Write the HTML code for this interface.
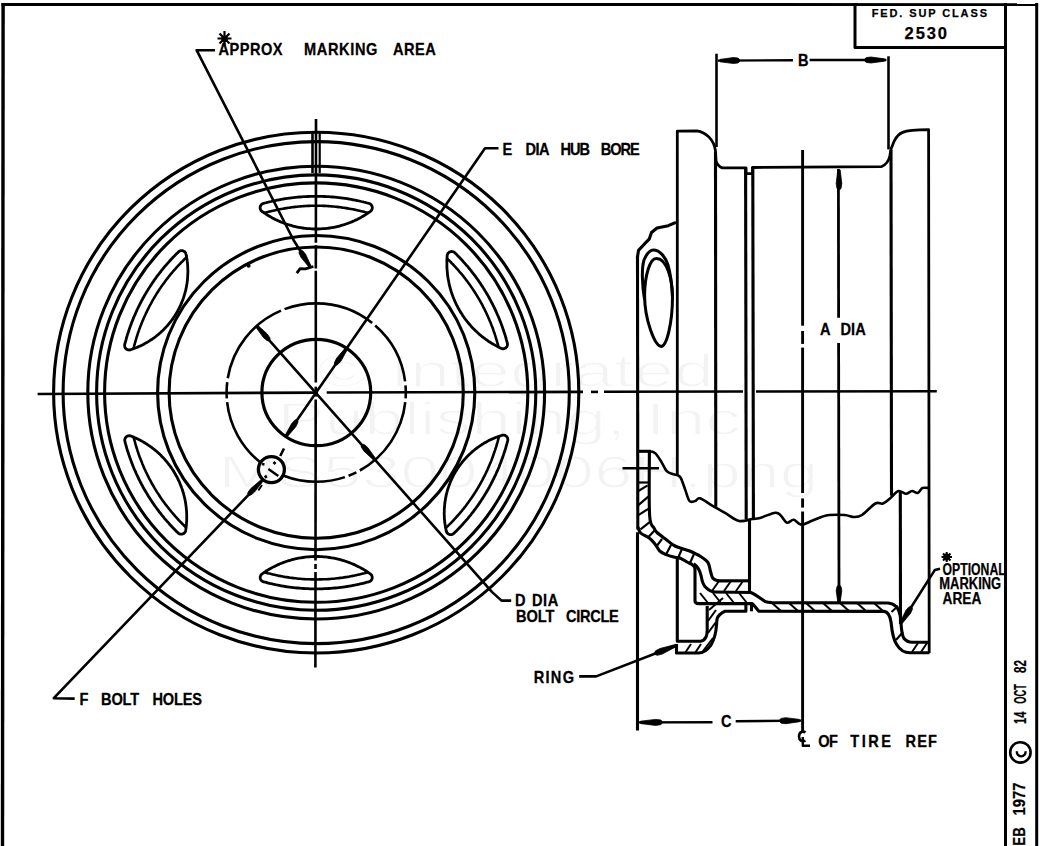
<!DOCTYPE html>
<html><head><meta charset="utf-8"><style>
html,body{margin:0;padding:0;background:#fff;}
svg{display:block;}
text{font-family:"Liberation Sans",sans-serif;}
</style></head><body>
<svg width="1040" height="846" viewBox="0 0 1040 846">
<rect width="1040" height="846" fill="#fff"/>
<g fill="#f3f3f3" stroke="#fff" stroke-width="1.3" font-weight="normal" font-size="47">
<text x="317" y="387" textLength="397" lengthAdjust="spacingAndGlyphs">&#169; Integrated</text>
<text x="277" y="435" textLength="464" lengthAdjust="spacingAndGlyphs">Publishing, Inc</text>
<text x="218.5" y="488" textLength="600" lengthAdjust="spacingAndGlyphs">MS53004006H.png</text>
</g>
<g fill="none" stroke="#000" stroke-linecap="butt" stroke-linejoin="round">
<path d="M3.1,3 L2.5,846" stroke-width="3.4"/>
<path d="M1.5,4.5 L1038,4.6" stroke-width="2.9"/>
<path d="M1005.5,3 L1005.5,846" stroke-width="3"/>
<path d="M1036.7,3 L1036.7,846" stroke-width="3"/>
<path d="M855,3 L855,47.5 L1005.5,47.5" stroke-width="3"/>
<ellipse cx="316.2" cy="392.6" rx="262.6" ry="260.4" stroke-width="3.1"/>
<ellipse cx="316.2" cy="392.6" rx="253.1" ry="251" stroke-width="3.1"/>
<ellipse cx="316.2" cy="392.6" rx="228.4" ry="226.4" stroke-width="3.1"/>
<ellipse cx="316.2" cy="392.6" rx="219.6" ry="217.7" stroke-width="3.1"/>
<ellipse cx="316.2" cy="392.6" rx="211.6" ry="209.7" stroke-width="3.1"/>
<ellipse cx="316.2" cy="392.6" rx="158.6" ry="157.1" stroke-width="3.1"/>
<ellipse cx="316.2" cy="392.6" rx="147.1" ry="145.6" stroke-width="3.1"/>
<ellipse cx="316.3" cy="392.5" rx="54.4" ry="53.2" stroke-width="3.2"/>
<ellipse cx="316.2" cy="392.6" rx="89.6" ry="89.2" stroke-width="2.6" pathLength="360" stroke-dasharray="3.75 2.5 54.5 2.5 5.5 2.5 40.45 16.6 45.45 2.5 10.5 2.5 57.5 2.5 59.5 2.5 41.5 2.5 4.75 0"/>
<path d="M447.2,255.6 L447.2,255.2 L447.3,254.8 L447.5,254.3 L447.7,253.9 L447.9,253.6 L448.1,253.2 L448.4,252.9 L448.8,252.6 L449.1,252.3 L449.5,252.1 L449.9,251.9 L450.3,251.7 L450.7,251.6 L451.2,251.5 L451.6,251.5 L452.1,251.5 L452.5,251.6 L452.9,251.7 L453.4,251.8 L453.8,252 L454.1,252.2 L454.5,252.5 L454.8,252.8 L455.8,253.8 L455.9,253.8 L457.3,255.2 L457.3,255.3 L458.7,256.7 L458.8,256.7 L460.2,258.2 L460.2,258.2 L461.6,259.7 L461.6,259.7 L463,261.2 L463,261.3 L464.3,262.8 L464.4,262.8 L465.7,264.3 L465.7,264.3 L467,265.9 L467.1,265.9 L468.4,267.4 L468.4,267.5 L469.7,269 L469.7,269.1 L471,270.6 L471,270.7 L472.2,272.3 L472.3,272.3 L473.5,273.9 L473.5,273.9 L474.7,275.5 L474.8,275.6 L476,277.2 L476,277.2 L477.2,278.9 L477.2,278.9 L478.4,280.5 L478.4,280.6 L479.5,282.2 L479.6,282.3 L480.7,283.9 L480.7,284 L481.8,285.7 L481.9,285.7 L482.9,287.4 L483,287.4 L484,289.1 L484.1,289.2 L485.1,290.9 L485.1,290.9 L486.2,292.6 L486.2,292.7 L487.2,294.4 L487.3,294.5 L488.3,296.2 L488.3,296.2 L489.3,298 L489.3,298 L490.2,299.8 L490.3,299.9 L491.2,301.6 L491.2,301.7 L492.2,303.5 L492.2,303.5 L493.1,305.3 L493.1,305.3 L494,307.1 L494,307.2 L494.9,309 L494.9,309 L495.8,310.9 L495.8,310.9 L496.6,312.7 L496.6,312.8 L497.4,314.6 L497.5,314.7 L498.3,316.5 L498.3,316.5 L499.1,318.4 L499.1,318.4 L499.8,320.3 L499.8,320.4 L500.6,322.2 L500.6,322.3 L501.3,324.1 L501.3,324.2 L502,326.1 L502,326.1 L502.7,328 L502.7,328.1 L503.4,330 L503.4,330 L504,331.9 L504,332 L504.7,333.9 L504.7,333.9 L505.3,335.8 L505.3,335.9 L505.9,337.8 L505.9,337.9 L506.4,339.8 L506.4,339.8 L507,341.8 L507,341.8 L507.3,343.2 L507.4,343.6 L507.5,344 L507.5,344.5 L507.4,344.9 L507.4,345.4 L507.2,345.8 L507.1,346.2 L506.9,346.6 L506.6,347 L506.3,347.3 L506,347.6 L505.7,347.9 L505.3,348.1 L504.9,348.3 L504.5,348.5 L504.1,348.6 L503.6,348.7 L503.2,348.8 L502.7,348.8 L502.3,348.7 L501.9,348.6 L501.4,348.5 L501,348.3 L499.3,347.5 L499.2,347.4 L497.3,346.5 L497.2,346.4 L495.4,345.4 L495.3,345.4 L493.4,344.3 L493.4,344.3 L491.5,343.2 L491.5,343.2 L489.7,342 L489.6,342 L487.8,340.8 L487.8,340.7 L486,339.5 L486,339.5 L484.3,338.2 L484.2,338.2 L482.5,336.9 L482.4,336.8 L480.8,335.5 L480.7,335.4 L479.1,334.1 L479,334 L477.5,332.6 L477.4,332.5 L475.9,331.1 L475.8,331 L474.3,329.5 L474.2,329.5 L472.7,328 L472.7,327.9 L471.2,326.4 L471.2,326.3 L469.8,324.7 L469.7,324.6 L468.4,323 L468.3,322.9 L467,321.3 L466.9,321.2 L465.6,319.6 L465.6,319.5 L464.3,317.8 L464.3,317.7 L463.1,316 L463,315.9 L461.9,314.1 L461.8,314.1 L460.7,312.3 L460.6,312.2 L459.6,310.4 L459.5,310.3 L458.5,308.5 L458.4,308.4 L457.4,306.5 L457.4,306.4 L456.4,304.6 L456.4,304.5 L455.5,302.6 L455.4,302.5 L454.6,300.6 L454.6,300.5 L453.7,298.5 L453.7,298.5 L452.9,296.5 L452.9,296.4 L452.2,294.4 L452.1,294.3 L451.5,292.4 L451.4,292.3 L450.8,290.3 L450.8,290.2 L450.2,288.1 L450.2,288 L449.6,286 L449.6,285.9 L449.1,283.9 L449.1,283.8 L448.7,281.7 L448.7,281.6 L448.3,279.6 L448.3,279.5 L447.9,277.4 L447.9,277.3 L447.6,275.2 L447.6,275.1 L447.4,273 L447.4,272.9 L447.2,270.8 L447.2,270.7 L447,268.7 L447,268.5 L446.9,266.5 L446.9,266.4 L446.9,264.3 L446.9,264.2 L446.9,262.1 L446.9,262 L446.9,259.9 L446.9,259.8 L447,257.7 L447,257.6Z" stroke-width="2.8"/>
<path d="M447,258.4 L448.2,259.6 L449.5,260.8 L450.7,262 L451.9,263.3 L453.1,264.5 L454.3,265.8 L455.5,267.1 L456.6,268.4 L457.8,269.7 L458.9,271 L460,272.3 L461.2,273.6 L462.3,274.9 L463.4,276.3 L464.4,277.7 L465.5,279 L466.5,280.4 L467.6,281.8 L468.6,283.2 L469.6,284.6 L470.6,286 L471.6,287.4 L472.6,288.9 L473.5,290.3 L474.5,291.8 L475.4,293.2 L476.3,294.7 L477.2,296.2 L478.1,297.7 L479,299.2 L479.9,300.7 L480.7,302.2 L481.6,303.7 L482.4,305.2 L483.2,306.8 L484,308.3 L484.8,309.8 L485.5,311.4 L486.3,313 L487,314.5 L487.7,316.1 L488.4,317.7 L489.1,319.3 L489.8,320.9 L490.5,322.5 L491.1,324.1 L491.7,325.7 L492.4,327.3 L493,328.9 L493.5,330.6 L494.1,332.2 L494.7,333.8 L495.2,335.5 L495.7,337.1 L496.2,338.8 L496.7,340.4 L497.2,342.1 L497.7,343.8 L498.1,345.5 L498.5,347.1" stroke-width="2.6"/>
<path d="M261.9,211.3 L261.6,211 L261.3,210.7 L261,210.4 L260.8,210 L260.6,209.7 L260.4,209.3 L260.3,208.8 L260.2,208.4 L260.1,208 L260.1,207.5 L260.2,207.1 L260.2,206.7 L260.4,206.3 L260.5,205.9 L260.7,205.5 L261,205.1 L261.2,204.8 L261.5,204.5 L261.9,204.2 L262.2,203.9 L262.6,203.7 L263,203.6 L263.4,203.4 L265.1,203 L265.1,203 L267.1,202.5 L267.1,202.4 L269.1,202 L269.1,201.9 L271.1,201.5 L271.1,201.5 L273.1,201 L273.1,201 L275.1,200.6 L275.2,200.6 L277.1,200.2 L277.2,200.2 L279.2,199.8 L279.2,199.8 L281.2,199.4 L281.2,199.4 L283.2,199 L283.3,199 L285.3,198.7 L285.3,198.7 L287.3,198.4 L287.4,198.4 L289.4,198.1 L289.4,198.1 L291.4,197.8 L291.5,197.8 L293.5,197.6 L293.5,197.6 L295.5,197.4 L295.6,197.4 L297.6,197.2 L297.6,197.2 L299.7,197 L299.7,197 L301.7,196.8 L301.8,196.8 L303.8,196.7 L303.8,196.7 L305.8,196.6 L305.9,196.6 L307.9,196.5 L308,196.5 L310,196.4 L310,196.4 L312,196.3 L312.1,196.3 L314.1,196.3 L314.2,196.3 L316.2,196.3 L316.2,196.3 L318.2,196.3 L318.3,196.3 L320.3,196.3 L320.4,196.3 L322.4,196.4 L322.4,196.4 L324.4,196.5 L324.5,196.5 L326.5,196.6 L326.6,196.6 L328.6,196.7 L328.6,196.7 L330.6,196.8 L330.7,196.8 L332.7,197 L332.7,197 L334.8,197.2 L334.8,197.2 L336.8,197.4 L336.9,197.4 L338.9,197.6 L338.9,197.6 L340.9,197.8 L341,197.8 L343,198.1 L343,198.1 L345,198.4 L345.1,198.4 L347.1,198.7 L347.1,198.7 L349.1,199 L349.2,199 L351.2,199.4 L351.2,199.4 L353.2,199.8 L353.2,199.8 L355.2,200.2 L355.3,200.2 L357.2,200.6 L357.3,200.6 L359.3,201 L359.3,201 L361.3,201.5 L361.3,201.5 L363.3,201.9 L363.3,202 L365.3,202.4 L365.3,202.5 L367.3,203 L367.3,203 L369,203.4 L369.4,203.6 L369.8,203.7 L370.2,203.9 L370.5,204.2 L370.9,204.5 L371.2,204.8 L371.4,205.1 L371.7,205.5 L371.9,205.9 L372,206.3 L372.2,206.7 L372.2,207.1 L372.3,207.5 L372.3,208 L372.2,208.4 L372.1,208.8 L372,209.3 L371.8,209.7 L371.6,210 L371.4,210.4 L371.1,210.7 L370.8,211 L370.5,211.3 L370.3,211.4 L370.3,211.5 L368.5,212.7 L368.4,212.8 L366.7,213.9 L366.6,214 L364.8,215.1 L364.7,215.2 L362.9,216.3 L362.8,216.3 L361,217.4 L360.9,217.4 L359,218.4 L358.9,218.5 L357.1,219.5 L357,219.5 L355,220.4 L355,220.5 L353,221.3 L352.9,221.4 L351,222.2 L350.9,222.2 L348.9,223 L348.8,223 L346.8,223.8 L346.7,223.8 L344.7,224.5 L344.6,224.5 L342.6,225.1 L342.5,225.2 L340.4,225.7 L340.3,225.8 L338.3,226.3 L338.2,226.3 L336.1,226.8 L336,226.8 L333.9,227.3 L333.8,227.3 L331.8,227.7 L331.7,227.7 L329.6,228 L329.5,228 L327.4,228.3 L327.2,228.3 L325.1,228.6 L325,228.6 L322.9,228.7 L322.8,228.7 L320.7,228.9 L320.6,228.9 L318.5,229 L318.4,229 L316.3,229 L316.1,229 L314,229 L313.9,229 L311.8,228.9 L311.7,228.9 L309.6,228.7 L309.5,228.7 L307.4,228.6 L307.3,228.6 L305.2,228.3 L305,228.3 L302.9,228 L302.8,228 L300.7,227.7 L300.6,227.7 L298.6,227.3 L298.5,227.3 L296.4,226.8 L296.3,226.8 L294.2,226.3 L294.1,226.3 L292.1,225.8 L292,225.7 L289.9,225.2 L289.8,225.1 L287.8,224.5 L287.7,224.5 L285.7,223.8 L285.6,223.8 L283.6,223 L283.5,223 L281.5,222.2 L281.4,222.2 L279.5,221.4 L279.4,221.3 L277.4,220.5 L277.4,220.4 L275.4,219.5 L275.3,219.5 L273.5,218.5 L273.4,218.4 L271.5,217.4 L271.4,217.4 L269.6,216.3 L269.5,216.3 L267.7,215.2 L267.6,215.1 L265.8,214 L265.7,213.9 L264,212.8 L263.9,212.7 L262.1,211.5 L262.1,211.4Z" stroke-width="2.8"/>
<path d="M264.3,213 L266,212.5 L267.7,212.1 L269.4,211.6 L271.1,211.2 L272.8,210.8 L274.5,210.4 L276.2,210 L277.9,209.6 L279.6,209.3 L281.3,209 L283.1,208.7 L284.8,208.4 L286.5,208.1 L288.3,207.8 L290,207.6 L291.7,207.3 L293.5,207.1 L295.2,206.9 L296.9,206.7 L298.7,206.5 L300.4,206.4 L302.2,206.2 L303.9,206.1 L305.7,206 L307.4,205.9 L309.2,205.9 L310.9,205.8 L312.7,205.8 L314.4,205.7 L316.2,205.7 L318,205.7 L319.7,205.8 L321.5,205.8 L323.2,205.9 L325,205.9 L326.7,206 L328.5,206.1 L330.2,206.2 L332,206.4 L333.7,206.5 L335.5,206.7 L337.2,206.9 L338.9,207.1 L340.7,207.3 L342.4,207.6 L344.1,207.8 L345.9,208.1 L347.6,208.4 L349.3,208.7 L351.1,209 L352.8,209.3 L354.5,209.6 L356.2,210 L357.9,210.4 L359.6,210.8 L361.3,211.2 L363,211.6 L364.7,212.1 L366.4,212.5 L368.1,213" stroke-width="2.6"/>
<path d="M130.5,349.8 L130.1,349.9 L129.7,349.9 L129.2,350 L128.8,350 L128.4,349.9 L127.9,349.8 L127.5,349.7 L127.1,349.5 L126.7,349.3 L126.4,349 L126,348.8 L125.7,348.5 L125.5,348.1 L125.2,347.8 L125,347.4 L124.9,347 L124.7,346.6 L124.7,346.1 L124.6,345.7 L124.6,345.3 L124.7,344.8 L124.7,344.4 L124.9,343.8 L124.9,343.8 L125.4,341.8 L125.4,341.8 L126,339.8 L126,339.8 L126.5,337.9 L126.5,337.8 L127.1,335.9 L127.1,335.8 L127.7,333.9 L127.7,333.9 L128.4,332 L128.4,331.9 L129,330 L129,330 L129.7,328.1 L129.7,328 L130.4,326.1 L130.4,326.1 L131.1,324.2 L131.1,324.1 L131.8,322.3 L131.8,322.2 L132.6,320.4 L132.6,320.3 L133.3,318.4 L133.3,318.4 L134.1,316.5 L134.1,316.5 L134.9,314.7 L135,314.6 L135.8,312.8 L135.8,312.7 L136.6,310.9 L136.6,310.9 L137.5,309 L137.5,309 L138.4,307.2 L138.4,307.1 L139.3,305.3 L139.3,305.3 L140.2,303.5 L140.2,303.5 L141.2,301.7 L141.2,301.6 L142.1,299.9 L142.2,299.8 L143.1,298 L143.1,298 L144.1,296.2 L144.1,296.2 L145.1,294.5 L145.2,294.4 L146.2,292.7 L146.2,292.6 L147.3,290.9 L147.3,290.9 L148.3,289.2 L148.4,289.1 L149.4,287.4 L149.5,287.4 L150.5,285.7 L150.6,285.7 L151.7,284 L151.7,283.9 L152.8,282.3 L152.9,282.2 L154,280.6 L154,280.5 L155.2,278.9 L155.2,278.9 L156.4,277.2 L156.4,277.2 L157.6,275.6 L157.7,275.5 L158.9,273.9 L158.9,273.9 L160.1,272.3 L160.2,272.3 L161.4,270.7 L161.4,270.6 L162.7,269.1 L162.7,269 L164,267.5 L164,267.4 L165.3,265.9 L165.4,265.9 L166.7,264.3 L166.7,264.3 L168,262.8 L168.1,262.8 L169.4,261.3 L169.4,261.2 L170.8,259.7 L170.8,259.7 L172.2,258.2 L172.2,258.2 L173.6,256.7 L173.7,256.7 L175.1,255.3 L175.1,255.2 L176.5,253.8 L176.6,253.8 L178,252.4 L178,252.3 L178.5,251.9 L178.8,251.6 L179.2,251.3 L179.5,251.1 L179.9,250.9 L180.4,250.8 L180.8,250.7 L181.2,250.6 L181.6,250.6 L182.1,250.6 L182.5,250.7 L182.9,250.8 L183.3,251 L183.7,251.2 L184.1,251.4 L184.5,251.6 L184.8,251.9 L185.1,252.2 L185.3,252.6 L185.6,253 L185.8,253.3 L185.9,253.8 L186,254.2 L186.3,255.5 L186.3,255.6 L186.7,257.7 L186.7,257.8 L187.1,259.9 L187.1,260.1 L187.3,262.2 L187.4,262.3 L187.6,264.5 L187.6,264.6 L187.7,266.7 L187.7,266.8 L187.8,269 L187.8,269.1 L187.9,271.3 L187.9,271.4 L187.8,273.5 L187.8,273.7 L187.7,275.8 L187.7,275.9 L187.6,278.1 L187.6,278.2 L187.4,280.3 L187.4,280.5 L187.1,282.6 L187.1,282.7 L186.8,284.8 L186.7,285 L186.4,287.1 L186.3,287.2 L185.9,289.3 L185.9,289.4 L185.4,291.5 L185.3,291.6 L184.8,293.7 L184.7,293.8 L184.1,295.9 L184.1,296 L183.4,298.1 L183.4,298.2 L182.6,300.2 L182.6,300.3 L181.8,302.3 L181.8,302.4 L180.9,304.4 L180.9,304.5 L180,306.5 L179.9,306.6 L179,308.5 L178.9,308.6 L177.9,310.5 L177.9,310.7 L176.8,312.5 L176.7,312.6 L175.6,314.5 L175.6,314.6 L174.4,316.4 L174.3,316.5 L173.1,318.3 L173.1,318.4 L171.8,320.1 L171.7,320.2 L170.4,322 L170.3,322.1 L169,323.7 L168.9,323.8 L167.5,325.5 L167.4,325.6 L166,327.2 L165.9,327.3 L164.4,328.8 L164.3,328.9 L162.8,330.4 L162.7,330.5 L161.1,332 L161.1,332.1 L159.4,333.5 L159.3,333.6 L157.7,335 L157.6,335 L155.9,336.4 L155.8,336.5 L154.1,337.8 L154,337.8 L152.2,339.1 L152.1,339.2 L150.3,340.3 L150.2,340.4 L148.4,341.6 L148.3,341.6 L146.4,342.7 L146.3,342.8 L144.4,343.8 L144.3,343.9 L142.4,344.9 L142.3,344.9 L140.4,345.9 L140.2,345.9 L138.3,346.8 L138.2,346.9 L136.2,347.7 L136,347.8 L134,348.5 L133.9,348.6 L131.9,349.3 L131.8,349.3Z" stroke-width="2.8"/>
<path d="M133.4,348.8 L133.9,347 L134.3,345.3 L134.8,343.6 L135.3,341.8 L135.8,340.1 L136.3,338.4 L136.8,336.7 L137.4,335 L137.9,333.3 L138.5,331.6 L139.1,329.9 L139.7,328.3 L140.3,326.6 L141,324.9 L141.6,323.2 L142.3,321.6 L143,319.9 L143.7,318.3 L144.4,316.7 L145.2,315 L145.9,313.4 L146.7,311.8 L147.5,310.2 L148.3,308.6 L149.1,307 L149.9,305.4 L150.8,303.8 L151.6,302.3 L152.5,300.7 L153.4,299.2 L154.3,297.6 L155.2,296.1 L156.1,294.6 L157.1,293 L158.1,291.5 L159,290 L160,288.6 L161,287.1 L162.1,285.6 L163.1,284.1 L164.2,282.7 L165.2,281.3 L166.3,279.8 L167.4,278.4 L168.5,277 L169.6,275.6 L170.7,274.2 L171.9,272.8 L173,271.5 L174.2,270.1 L175.4,268.8 L176.6,267.4 L177.8,266.1 L179,264.8 L180.3,263.5 L181.5,262.2 L182.8,261 L184,259.7 L185.3,258.4 L186.6,257.2" stroke-width="2.6"/>
<path d="M185.7,530.5 L185.6,530.9 L185.5,531.3 L185.3,531.7 L185.1,532.1 L184.8,532.5 L184.5,532.8 L184.2,533.1 L183.9,533.4 L183.5,533.6 L183.1,533.8 L182.7,534 L182.2,534.1 L181.8,534.2 L181.4,534.2 L180.9,534.2 L180.5,534.2 L180,534.1 L179.6,533.9 L179.2,533.7 L178.8,533.5 L178.5,533.3 L178.1,533 L178,532.9 L178,532.8 L176.6,531.4 L176.5,531.4 L175.1,530 L175.1,529.9 L173.7,528.5 L173.6,528.5 L172.2,527 L172.2,527 L170.8,525.5 L170.8,525.5 L169.4,524 L169.4,523.9 L168.1,522.4 L168,522.4 L166.7,520.9 L166.7,520.9 L165.4,519.3 L165.3,519.3 L164,517.8 L164,517.7 L162.7,516.2 L162.7,516.1 L161.4,514.6 L161.4,514.5 L160.2,512.9 L160.1,512.9 L158.9,511.3 L158.9,511.3 L157.7,509.7 L157.6,509.6 L156.4,508 L156.4,508 L155.2,506.3 L155.2,506.3 L154,504.7 L154,504.6 L152.9,503 L152.8,502.9 L151.7,501.3 L151.7,501.2 L150.6,499.5 L150.5,499.5 L149.5,497.8 L149.4,497.8 L148.4,496.1 L148.3,496 L147.3,494.3 L147.3,494.3 L146.2,492.6 L146.2,492.5 L145.2,490.8 L145.1,490.7 L144.1,489 L144.1,489 L143.1,487.2 L143.1,487.2 L142.2,485.4 L142.1,485.3 L141.2,483.6 L141.2,483.5 L140.2,481.7 L140.2,481.7 L139.3,479.9 L139.3,479.9 L138.4,478.1 L138.4,478 L137.5,476.2 L137.5,476.2 L136.6,474.3 L136.6,474.3 L135.8,472.5 L135.8,472.4 L135,470.6 L134.9,470.5 L134.1,468.7 L134.1,468.7 L133.3,466.8 L133.3,466.8 L132.6,464.9 L132.6,464.8 L131.8,463 L131.8,462.9 L131.1,461.1 L131.1,461 L130.4,459.1 L130.4,459.1 L129.7,457.2 L129.7,457.1 L129,455.2 L129,455.2 L128.4,453.3 L128.4,453.2 L127.7,451.3 L127.7,451.3 L127.1,449.4 L127.1,449.3 L126.5,447.4 L126.5,447.3 L126,445.4 L126,445.4 L125.4,443.4 L125.4,443.4 L124.9,441.4 L124.9,441.4 L124.9,441.3 L124.8,440.8 L124.7,440.4 L124.7,440 L124.8,439.5 L124.9,439.1 L125,438.7 L125.2,438.3 L125.4,437.9 L125.6,437.5 L125.9,437.2 L126.2,436.8 L126.6,436.6 L127,436.3 L127.4,436.1 L127.8,436 L128.2,435.8 L128.6,435.8 L129.1,435.7 L129.5,435.7 L130,435.8 L130.4,435.9 L130.8,436 L131.5,436.3 L131.6,436.3 L133.6,437.1 L133.7,437.2 L135.6,438 L135.7,438.1 L137.7,439 L137.8,439 L139.7,440 L139.8,440 L141.7,441 L141.8,441.1 L143.6,442.1 L143.7,442.2 L145.5,443.3 L145.6,443.4 L147.4,444.5 L147.5,444.6 L149.3,445.8 L149.4,445.8 L151.1,447.1 L151.2,447.1 L152.9,448.4 L153,448.5 L154.7,449.8 L154.8,449.9 L156.4,451.3 L156.5,451.3 L158.1,452.7 L158.2,452.8 L159.8,454.3 L159.8,454.3 L161.4,455.8 L161.4,455.9 L162.9,457.4 L163,457.5 L164.5,459.1 L164.5,459.2 L165.9,460.8 L166,460.9 L167.4,462.5 L167.4,462.6 L168.8,464.3 L168.8,464.4 L170.1,466.1 L170.2,466.1 L171.4,467.9 L171.5,468 L172.7,469.7 L172.7,469.8 L173.9,471.6 L173.9,471.7 L175,473.6 L175.1,473.7 L176.1,475.5 L176.2,475.6 L177.2,477.5 L177.2,477.6 L178.2,479.5 L178.2,479.6 L179.1,481.5 L179.2,481.6 L180,483.6 L180,483.7 L180.8,485.7 L180.9,485.8 L181.6,487.8 L181.7,487.9 L182.4,489.9 L182.4,490 L183,492 L183.1,492.1 L183.7,494.2 L183.7,494.3 L184.2,496.3 L184.3,496.4 L184.7,498.5 L184.8,498.6 L185.2,500.7 L185.2,500.8 L185.6,502.9 L185.6,503 L185.9,505.1 L185.9,505.2 L186.2,507.3 L186.2,507.5 L186.4,509.6 L186.4,509.7 L186.6,511.8 L186.6,511.9 L186.7,514 L186.7,514.1 L186.7,516.3 L186.7,516.4 L186.7,518.5 L186.7,518.6 L186.7,520.7 L186.7,520.9 L186.5,523 L186.5,523.1 L186.4,525.2 L186.4,525.3 L186.1,527.4 L186.1,527.6 L185.8,529.7 L185.8,529.8Z" stroke-width="2.8"/>
<path d="M186.1,527.5 L184.8,526.3 L183.6,525 L182.3,523.8 L181.1,522.5 L179.9,521.3 L178.6,520 L177.4,518.7 L176.3,517.4 L175.1,516.1 L173.9,514.7 L172.8,513.4 L171.6,512 L170.5,510.7 L169.4,509.3 L168.3,507.9 L167.2,506.5 L166.1,505.1 L165,503.7 L164,502.3 L163,500.9 L161.9,499.4 L160.9,498 L159.9,496.5 L159,495 L158,493.6 L157,492.1 L156.1,490.6 L155.2,489.1 L154.3,487.6 L153.4,486 L152.5,484.5 L151.6,483 L150.8,481.4 L150,479.9 L149.1,478.3 L148.3,476.7 L147.5,475.2 L146.8,473.6 L146,472 L145.3,470.4 L144.5,468.8 L143.8,467.2 L143.1,465.5 L142.4,463.9 L141.8,462.3 L141.1,460.6 L140.5,459 L139.8,457.3 L139.2,455.7 L138.6,454 L138.1,452.4 L137.5,450.7 L137,449 L136.4,447.3 L135.9,445.6 L135.4,443.9 L135,442.2 L134.5,440.5 L134,438.8 L133.6,437.1" stroke-width="2.6"/>
<path d="M370.4,573.9 L370.7,574.2 L371,574.5 L371.3,574.8 L371.5,575.2 L371.8,575.5 L371.9,575.9 L372.1,576.4 L372.1,576.8 L372.2,577.2 L372.2,577.7 L372.2,578.1 L372.1,578.5 L372,578.9 L371.8,579.3 L371.6,579.7 L371.4,580.1 L371.1,580.4 L370.8,580.7 L370.4,581 L370.1,581.3 L369.7,581.5 L369.3,581.7 L368.9,581.8 L367.3,582.2 L367.3,582.2 L365.3,582.7 L365.3,582.8 L363.3,583.2 L363.3,583.3 L361.3,583.7 L361.3,583.7 L359.3,584.2 L359.3,584.2 L357.3,584.6 L357.2,584.6 L355.3,585 L355.2,585 L353.2,585.4 L353.2,585.4 L351.2,585.8 L351.2,585.8 L349.2,586.2 L349.1,586.2 L347.1,586.5 L347.1,586.5 L345.1,586.8 L345,586.8 L343,587.1 L343,587.1 L341,587.4 L340.9,587.4 L338.9,587.6 L338.9,587.6 L336.9,587.8 L336.8,587.8 L334.8,588 L334.8,588 L332.7,588.2 L332.7,588.2 L330.7,588.4 L330.6,588.4 L328.6,588.5 L328.6,588.5 L326.6,588.6 L326.5,588.6 L324.5,588.7 L324.4,588.7 L322.4,588.8 L322.4,588.8 L320.4,588.9 L320.3,588.9 L318.3,588.9 L318.2,588.9 L316.2,588.9 L316.2,588.9 L314.2,588.9 L314.1,588.9 L312.1,588.9 L312,588.9 L310,588.8 L310,588.8 L308,588.7 L307.9,588.7 L305.9,588.6 L305.8,588.6 L303.8,588.5 L303.8,588.5 L301.8,588.4 L301.7,588.4 L299.7,588.2 L299.7,588.2 L297.6,588 L297.6,588 L295.6,587.8 L295.5,587.8 L293.5,587.6 L293.5,587.6 L291.5,587.4 L291.4,587.4 L289.4,587.1 L289.4,587.1 L287.4,586.8 L287.3,586.8 L285.3,586.5 L285.3,586.5 L283.3,586.2 L283.2,586.2 L281.2,585.8 L281.2,585.8 L279.2,585.4 L279.2,585.4 L277.2,585 L277.1,585 L275.2,584.6 L275.1,584.6 L273.1,584.2 L273.1,584.2 L271.1,583.7 L271.1,583.7 L269.1,583.3 L269.1,583.2 L267.1,582.8 L267.1,582.7 L265.1,582.2 L265.1,582.2 L263.5,581.8 L263.1,581.7 L262.7,581.5 L262.3,581.3 L262,581 L261.6,580.7 L261.3,580.4 L261,580.1 L260.8,579.7 L260.6,579.3 L260.4,578.9 L260.3,578.5 L260.2,578.1 L260.2,577.7 L260.2,577.2 L260.3,576.8 L260.3,576.4 L260.5,575.9 L260.6,575.5 L260.9,575.2 L261.1,574.8 L261.4,574.5 L261.7,574.2 L262,573.9 L262.1,573.9 L262.2,573.8 L263.9,572.6 L264,572.5 L265.7,571.4 L265.8,571.3 L267.6,570.2 L267.7,570.1 L269.5,569 L269.6,569 L271.5,568 L271.6,567.9 L273.4,566.9 L273.5,566.9 L275.4,565.9 L275.5,565.9 L277.4,565 L277.5,564.9 L279.4,564.1 L279.5,564 L281.5,563.2 L281.6,563.2 L283.6,562.4 L283.7,562.4 L285.6,561.7 L285.7,561.6 L287.7,561 L287.8,560.9 L289.9,560.3 L290,560.3 L292,559.7 L292.1,559.7 L294.2,559.2 L294.3,559.1 L296.3,558.7 L296.4,558.6 L298.5,558.2 L298.6,558.2 L300.7,557.8 L300.8,557.8 L302.9,557.5 L303,557.5 L305.1,557.2 L305.2,557.2 L307.3,556.9 L307.4,556.9 L309.5,556.8 L309.6,556.7 L311.7,556.6 L311.8,556.6 L313.9,556.5 L314,556.5 L316.1,556.5 L316.3,556.5 L318.4,556.5 L318.5,556.5 L320.6,556.6 L320.7,556.6 L322.8,556.7 L322.9,556.8 L325,556.9 L325.1,556.9 L327.2,557.2 L327.3,557.2 L329.4,557.5 L329.5,557.5 L331.6,557.8 L331.7,557.8 L333.8,558.2 L333.9,558.2 L336,558.6 L336.1,558.7 L338.1,559.1 L338.2,559.2 L340.3,559.7 L340.4,559.7 L342.4,560.3 L342.5,560.3 L344.6,560.9 L344.7,561 L346.7,561.6 L346.8,561.7 L348.7,562.4 L348.8,562.4 L350.8,563.2 L350.9,563.2 L352.9,564 L353,564.1 L354.9,564.9 L355,565 L356.9,565.9 L357,565.9 L358.9,566.9 L359,566.9 L360.8,567.9 L360.9,568 L362.8,569 L362.9,569 L364.7,570.1 L364.8,570.2 L366.6,571.3 L366.7,571.4 L368.4,572.5 L368.5,572.6 L370.2,573.8 L370.3,573.9Z" stroke-width="2.8"/>
<path d="M368,572.2 L366.3,572.7 L364.6,573.2 L362.9,573.6 L361.2,574 L359.5,574.4 L357.8,574.8 L356.1,575.2 L354.4,575.6 L352.7,575.9 L351,576.2 L349.3,576.6 L347.5,576.9 L345.8,577.1 L344.1,577.4 L342.4,577.7 L340.6,577.9 L338.9,578.1 L337.1,578.3 L335.4,578.5 L333.7,578.7 L331.9,578.8 L330.2,579 L328.4,579.1 L326.7,579.2 L324.9,579.3 L323.2,579.3 L321.4,579.4 L319.7,579.4 L317.9,579.5 L316.2,579.5 L314.5,579.5 L312.7,579.4 L311,579.4 L309.2,579.3 L307.5,579.3 L305.7,579.2 L304,579.1 L302.2,579 L300.5,578.8 L298.7,578.7 L297,578.5 L295.3,578.3 L293.5,578.1 L291.8,577.9 L290,577.7 L288.3,577.4 L286.6,577.1 L284.9,576.9 L283.1,576.6 L281.4,576.2 L279.7,575.9 L278,575.6 L276.3,575.2 L274.6,574.8 L272.9,574.4 L271.2,574 L269.5,573.6 L267.8,573.2 L266.1,572.7 L264.4,572.2" stroke-width="2.6"/>
<path d="M502,435.3 L502.4,435.2 L502.8,435.1 L503.3,435.1 L503.7,435.1 L504.1,435.2 L504.5,435.3 L505,435.4 L505.3,435.6 L505.7,435.8 L506.1,436.1 L506.4,436.3 L506.7,436.6 L507,437 L507.2,437.3 L507.4,437.7 L507.6,438.1 L507.7,438.5 L507.8,439 L507.8,439.4 L507.8,439.8 L507.8,440.3 L507.7,440.7 L507.5,441.4 L507.5,441.4 L507,443.4 L507,443.4 L506.4,445.4 L506.4,445.4 L505.9,447.3 L505.9,447.4 L505.3,449.3 L505.3,449.4 L504.7,451.3 L504.7,451.3 L504,453.2 L504,453.3 L503.4,455.2 L503.4,455.2 L502.7,457.1 L502.7,457.2 L502,459.1 L502,459.1 L501.3,461 L501.3,461.1 L500.6,462.9 L500.6,463 L499.8,464.8 L499.8,464.9 L499.1,466.8 L499.1,466.8 L498.3,468.7 L498.3,468.7 L497.5,470.5 L497.4,470.6 L496.6,472.4 L496.6,472.5 L495.8,474.3 L495.8,474.3 L494.9,476.2 L494.9,476.2 L494,478 L494,478.1 L493.1,479.9 L493.1,479.9 L492.2,481.7 L492.2,481.7 L491.2,483.5 L491.2,483.6 L490.3,485.3 L490.2,485.4 L489.3,487.2 L489.3,487.2 L488.3,489 L488.3,489 L487.3,490.7 L487.2,490.8 L486.2,492.5 L486.2,492.6 L485.1,494.3 L485.1,494.3 L484.1,496 L484,496.1 L483,497.8 L482.9,497.8 L481.9,499.5 L481.8,499.5 L480.7,501.2 L480.7,501.3 L479.6,502.9 L479.5,503 L478.4,504.6 L478.4,504.7 L477.2,506.3 L477.2,506.3 L476,508 L476,508 L474.8,509.6 L474.7,509.7 L473.5,511.3 L473.5,511.3 L472.3,512.9 L472.2,512.9 L471,514.5 L471,514.6 L469.7,516.1 L469.7,516.2 L468.4,517.7 L468.4,517.8 L467.1,519.3 L467,519.3 L465.7,520.9 L465.7,520.9 L464.4,522.4 L464.3,522.4 L463,523.9 L463,524 L461.6,525.5 L461.6,525.5 L460.2,527 L460.2,527 L458.8,528.5 L458.7,528.5 L457.3,529.9 L457.3,530 L455.9,531.4 L455.8,531.4 L454.4,532.8 L454.4,532.9 L453.8,533.4 L453.5,533.7 L453.2,533.9 L452.8,534.2 L452.4,534.3 L452,534.5 L451.6,534.6 L451.1,534.6 L450.7,534.7 L450.3,534.6 L449.8,534.6 L449.4,534.5 L449,534.3 L448.6,534.1 L448.2,533.9 L447.9,533.7 L447.6,533.4 L447.3,533.1 L447,532.7 L446.8,532.4 L446.6,532 L446.4,531.6 L446.3,531.2 L446,529.7 L446,529.6 L445.5,527.5 L445.5,527.4 L445.2,525.2 L445.1,525.1 L444.9,523 L444.8,522.9 L444.6,520.7 L444.6,520.6 L444.4,518.4 L444.4,518.3 L444.3,516.2 L444.3,516 L444.2,513.9 L444.2,513.8 L444.3,511.6 L444.3,511.5 L444.3,509.3 L444.3,509.2 L444.5,507 L444.5,506.9 L444.7,504.8 L444.7,504.6 L444.9,502.5 L444.9,502.4 L445.3,500.2 L445.3,500.1 L445.6,498 L445.7,497.9 L446.1,495.8 L446.1,495.6 L446.6,493.5 L446.7,493.4 L447.2,491.3 L447.2,491.2 L447.8,489.1 L447.9,489 L448.6,487 L448.6,486.8 L449.3,484.8 L449.4,484.7 L450.1,482.7 L450.2,482.6 L451,480.6 L451.1,480.5 L452,478.5 L452,478.4 L453,476.4 L453,476.3 L454,474.4 L454.1,474.3 L455.2,472.4 L455.2,472.3 L456.3,470.5 L456.4,470.4 L457.6,468.5 L457.6,468.4 L458.9,466.6 L458.9,466.5 L460.2,464.8 L460.3,464.7 L461.6,463 L461.7,462.9 L463,461.2 L463.1,461.1 L464.5,459.5 L464.6,459.4 L466,457.8 L466.1,457.7 L467.6,456.1 L467.7,456 L469.3,454.5 L469.3,454.4 L470.9,452.9 L471,452.8 L472.7,451.4 L472.7,451.3 L474.4,450 L474.5,449.9 L476.2,448.5 L476.3,448.5 L478.1,447.2 L478.2,447.1 L479.9,445.9 L480,445.8 L481.8,444.6 L482,444.5 L483.8,443.4 L483.9,443.3 L485.8,442.2 L485.9,442.2 L487.8,441.1 L487.9,441.1 L489.8,440.1 L490,440.1 L491.9,439.1 L492,439.1 L494,438.2 L494.1,438.2 L496.1,437.3 L496.3,437.3 L498.3,436.5 L498.4,436.5 L500.5,435.8 L500.6,435.8Z" stroke-width="2.8"/>
<path d="M499,436.3 L498.6,438 L498.1,439.8 L497.7,441.5 L497.2,443.2 L496.7,444.9 L496.2,446.7 L495.6,448.4 L495.1,450.1 L494.5,451.8 L493.9,453.5 L493.3,455.2 L492.7,456.9 L492.1,458.5 L491.5,460.2 L490.8,461.9 L490.1,463.5 L489.4,465.2 L488.7,466.8 L488,468.5 L487.3,470.1 L486.5,471.7 L485.7,473.4 L485,475 L484.1,476.6 L483.3,478.2 L482.5,479.8 L481.6,481.3 L480.8,482.9 L479.9,484.5 L479,486 L478.1,487.6 L477.2,489.1 L476.2,490.7 L475.3,492.2 L474.3,493.7 L473.3,495.2 L472.3,496.7 L471.3,498.2 L470.3,499.6 L469.3,501.1 L468.2,502.6 L467.1,504 L466.1,505.4 L465,506.9 L463.9,508.3 L462.7,509.7 L461.6,511.1 L460.5,512.4 L459.3,513.8 L458.1,515.2 L456.9,516.5 L455.7,517.8 L454.5,519.2 L453.3,520.5 L452,521.8 L450.8,523.1 L449.5,524.4 L448.2,525.6 L447,526.9 L445.7,528.1" stroke-width="2.6"/>
<path d="M37.6,394 L318,392.6" stroke-width="2.6"/>
<path d="M326.7,392.5 L583,391.9" stroke-width="2.6"/>
<path d="M591,391.9 L598,391.9" stroke-width="2.6"/>
<path d="M604,391.8 L743,391.5" stroke-width="2.6"/>
<path d="M756,391.5 L936.8,391.3" stroke-width="2.6"/>
<path d="M316,119 L315.9,242.8" stroke-width="2.6"/>
<path d="M315.9,245.2 L315.8,268.4" stroke-width="2.6"/>
<path d="M315.8,270.7 L315.8,382.5" stroke-width="2.6"/>
<path d="M315.8,386.7 L315.8,396.6" stroke-width="2.6"/>
<path d="M315.7,399.5 L315.5,560.6" stroke-width="2.6"/>
<path d="M315.5,564 L315.5,569" stroke-width="2.6"/>
<path d="M315.5,572 L315.4,667.4" stroke-width="2.6"/>
<path d="M312.5,131 L312.5,173" stroke-width="2.6"/>
<path d="M319.7,131 L319.7,173" stroke-width="2.2"/>
<circle cx="248.6" cy="265.7" r="2" fill="#000" stroke="none"/>
<path d="M215,50.2 L196.6,50.2 L259.3,172.9 L293.5,240 L310,266.5" stroke-width="2.6"/>
<path d="M309,267.1 L300.9,257.2 L299.1,253.2 L299.2,251.4 L301.2,250.2 L302.9,250.9 L305.6,254.2 L311,265.9Z" fill="#000" stroke-width="0.8"/>
<path d="M296.8,273.1 L300.1,268.6 L305.3,268.8 L313.4,266.5" stroke-width="2.8"/>
<path d="M498.5,148.3 L485,148.3 L285.7,436.4" stroke-width="2.6"/>
<path d="M347.5,349.2 L341,361.1 L337.9,364.4 L336.4,365.2 L334.4,363.9 L334.6,362.2 L336.7,358.1 L345.5,347.8Z" fill="#000" stroke-width="0.8"/>
<path d="M285,435.7 L291.5,423.8 L294.5,420.4 L296,419.6 L298,421 L297.8,422.7 L295.8,426.7 L287,437.1Z" fill="#000" stroke-width="0.8"/>
<path d="M256.3,325.6 L491.9,591.9 L501.5,600.6 L511.2,600.6" stroke-width="2.6"/>
<path d="M257.2,324.8 L267.2,333.9 L269.8,337.7 L270.2,339.4 L268.4,341 L266.8,340.4 L263.3,337.4 L255.4,326.4Z" fill="#000" stroke-width="0.8"/>
<path d="M374,460.4 L364,451.2 L361.5,447.4 L361.1,445.7 L362.9,444.2 L364.5,444.8 L367.9,447.7 L375.8,458.8Z" fill="#000" stroke-width="0.8"/>
<circle cx="271.4" cy="469.6" r="13" stroke-width="3.3"/>
<path d="M74.7,698.6 L53.8,698.2 L261.5,481.3" stroke-width="2.6"/>
<path d="M262.9,481.3 L254.5,492.1 L251,494.9 L249.4,495.4 L247.7,493.8 L248.1,492.1 L250.8,488.5 L261.1,479.7Z" fill="#000" stroke-width="0.8"/>
<path d="M280.2,456 L284,448.5" stroke-width="2.6"/>
<path d="M268.4,469 L278.3,476.1" stroke-width="2.4"/>
<path d="M262,464 L264.5,464.5" stroke-width="2.4"/>
<path d="M273.5,462 L275.5,464" stroke-width="2.6"/>
<path d="M265,475.5 L266.5,478" stroke-width="2.6"/>
<path d="M258.3,490.5 L262,485" stroke-width="2"/>
<path d="M637.5,256 L637.8,529.5" stroke-width="3.1"/>
<path d="M676,222.4 L668.3,225.7 L657,228 L651.5,232.5 L649.2,239.2 L644.7,243.7 L638.5,250.4 L637.3,258" stroke-width="3.1"/>
<path d="M656.2,258.4 C667,258 672.5,280 672.5,298 C672.3,322 667,346 661.2,346.4 C655,346 644.5,320 644.6,295 C644.8,275 650,258.4 656.2,258.4 Z" stroke-width="3"/>
<path d="M644.6,300 C642,285 641.5,268 644,260 C647,253 650,250 653.4,250 C660,250 666,258 668,265 C670,272 672,285 672.5,297" stroke-width="3"/>
<path d="M677.3,475 L677.3,131.2 L697,130.8 C706,132 714,140 715.4,150.4 L716,160.8 C717,164 719,166.5 722.3,167.9 L746,167.9 L746,173.7 L752.5,173.7 L752.5,167.5 L881.3,166.7 C886,165 889,160 889.8,156 C891,145 896,135 902.6,132.4 C908,130 915,129.7 928.6,129.7 L929.2,653" stroke-width="2.8"/>
<path d="M716.5,53.7 L716.5,147" stroke-width="2.6"/>
<path d="M888.5,56.3 L888.5,149.4" stroke-width="2.6"/>
<path d="M718,60.6 L793,60.3" stroke-width="2.4"/>
<path d="M809.6,60 L886.4,60" stroke-width="2.4"/>
<path d="M720,59.4 L733.5,57.5 L738,58.1 L739.5,59.3 L739.5,61.7 L738,62.9 L733.5,63.5 L720,61.8Z" fill="#000" stroke-width="0.8"/>
<path d="M884.4,61.2 L870.9,63 L866.4,62.4 L864.9,61.2 L864.9,58.8 L866.4,57.6 L870.9,57 L884.4,58.8Z" fill="#000" stroke-width="0.8"/>
<path d="M715.5,152 L715.8,506.8" stroke-width="3.1"/>
<path d="M745.6,167 L746.2,519" stroke-width="3.1"/>
<path d="M752.8,167 L753.4,519" stroke-width="3.1"/>
<path d="M891,150 L891.5,495.8" stroke-width="3.1"/>
<path d="M802.6,150 L802.6,325.7" stroke-width="2.9"/>
<path d="M802.6,331 L802.6,343.9" stroke-width="2.9"/>
<path d="M802.6,347.6 L802.6,493" stroke-width="2.9"/>
<path d="M802.6,498.4 L802.6,507.6" stroke-width="2.9"/>
<path d="M802.6,511.5 L802.6,731" stroke-width="2.9"/>
<path d="M838.4,169 L838.6,317.7" stroke-width="2.8"/>
<path d="M838.6,342.9 L839,603" stroke-width="2.8"/>
<path d="M840.2,170 L841.8,183.5 L841.1,188 L840.2,189.5 L837.8,189.5 L836.9,188 L836.2,183.5 L837.8,170Z" fill="#000" stroke-width="0.8"/>
<path d="M837.8,602 L836.2,590.8 L836.9,587 L837.8,585.5 L840.2,585.5 L841.1,587 L841.8,590.8 L840.2,602Z" fill="#000" stroke-width="0.8"/>
<path d="M651.2,451.3 C651.9,451.6 653.8,451.8 655.4,453.4 C657,455 659.1,458.2 661,461.2 C662.9,464.2 664.9,469.1 666.8,471.2 C668.7,473.3 670.6,473.3 672.5,474 C674.4,474.7 676.6,474.7 678,475.4 C679.4,476.1 679.8,475.9 681,478.3 C682.2,480.7 683.8,485.8 685.2,489.6 C686.6,493.4 687.8,499.1 689.5,501 C691.2,502.9 693.5,501.4 695.2,501 C697,500.6 697.1,497.5 700,498.3 C702.9,499.1 708.3,503.4 712.6,505.9 C716.9,508.4 721.5,510.9 725.9,513.4 C730.3,515.9 734.7,520.1 739.1,521 C743.5,521.9 748.8,519.5 752.3,519 C755.8,518.5 756.1,518.9 760,517.9 C763.9,516.9 771.9,513 775.4,512.7 C778.9,512.4 779.3,514.3 781.2,516 C783.1,517.7 784.9,522.1 787,522.7 C789.1,523.3 791.3,519.5 793.7,519.8 C796.1,520.1 798.2,524.4 801.3,524.6 C804.3,524.8 808.6,522.1 812,520.8 C815.4,519.5 818.6,518 821.5,517 C824.4,516 825.4,515.3 829.2,515 C833.1,514.7 840.4,514.7 844.6,515 C848.8,515.3 851.3,517 854.2,517 C857.1,517 858.5,517.2 862,515 C865.5,512.8 871.9,505.4 875.4,503.5 C878.9,501.6 880.4,504.5 883,503.5 C885.6,502.5 888.2,499.8 890.8,497.7 C893.4,495.6 896,491.6 898.5,491 C901,490.4 903.8,493.8 906,493.8 C908.2,493.8 910,491.1 912,491 C914,490.9 916,493.4 917.7,492.9 C919.5,492.4 920.7,488.8 922.5,488 C924.3,487.2 927.3,488 928.3,488" stroke-width="2.6"/>
<path d="M638,451.3 L651.2,451.3" stroke-width="3.1"/>
<path d="M649.4,451.3 C649.4,462 648.8,502.4 649.6,515.2 C650.4,528 652.8,525.1 654,528 C655.2,530.9 655.1,530.7 657,532.5 C658.9,534.3 662.5,536.8 665.5,539 C668.5,541.2 671.1,544 675,546 C678.9,548 684.7,549 689,550.8 C693.3,552.6 697.8,554.7 701,556.7 C704.2,558.7 706.4,560.2 708,562.6 C709.6,565 709.6,568.4 710.4,571 C711.2,573.6 711.5,576.4 712.7,578 C713.9,579.6 714.6,580.1 717.5,580.6 C720.4,581.1 727.9,580.8 730,580.8" stroke-width="3.1"/>
<path d="M730,580.8 L749.7,580.8" stroke-width="3.1"/>
<path d="M638,527 C638.4,528 638.8,531.2 640.6,533 C642.4,534.8 646.5,536 648.9,537.8 C651.3,539.6 653,541.5 654.8,543.7 C656.6,545.9 657.8,549 659.6,550.8 C661.4,552.6 663,553.3 665.5,554.4 C668,555.5 672.2,556.7 674.7,557.3 C677.2,557.9 678.4,557.4 680.4,558.2 C682.4,559 685,560.9 687,562 C689,563.1 691.4,563.9 692.7,564.9 C694,565.9 694.6,567.5 695,568" stroke-width="3.1"/>
<path d="M695,567.5 L695,601 C695,603 696.5,603.6 699,603.6 L752.3,603.6 C754.5,605.5 756.5,609 759,611.3 L884,611.4 C888,612 890,615 891,622 C892,632 893,640 897,645 C900,650 904,652.8 910,652.8 L929.5,652.8" stroke-width="3.1"/>
<path d="M751.5,604 L751.5,611.3" stroke-width="3.1"/>
<path d="M693.7,563.9 C697,566 700,571 701.2,576.2 C702,581 703,585 706,587.6 C708,589.5 711,592 715,592 L750.7,592.5 C754,593.5 760,598 765,601.5 C767,602.2 769,602.5 772,602.6 L888,603 C895,603.5 899,608 900.3,616 C901.5,626 901,634 904,638.5 C906,641 908,642.2 912,642.2 L929,642.2" stroke-width="3.1"/>
<path d="M749.5,519 L749.5,592.5" stroke-width="3.1"/>
<path d="M900.3,491 L900.5,624" stroke-width="3.1"/>
<path d="M638.4,491 L647.6,485.4" stroke-width="2.2"/>
<path d="M638.4,505.2 L648.3,496.7" stroke-width="2.2"/>
<path d="M638.4,515.2 L648.3,508.8" stroke-width="2.2"/>
<path d="M640.5,529.4 L651.2,520.9" stroke-width="2.2"/>
<path d="M648,537.5 L655,530" stroke-width="2.2"/>
<path d="M656,547 L662,539" stroke-width="2.2"/>
<path d="M666,554.5 L671,545" stroke-width="2.2"/>
<path d="M678,558 L682,549" stroke-width="2.2"/>
<path d="M690,563 L694,554" stroke-width="2.2"/>
<path d="M622.5,468.3 L659,468.3" stroke-width="2.6"/>
<path d="M638,482.5 L650,482.5" stroke-width="2.2"/>
<path d="M772,603 L781,611" stroke-width="2"/>
<path d="M789,603 L798,611" stroke-width="2"/>
<path d="M806,603 L815,611" stroke-width="2"/>
<path d="M823,603 L832,611" stroke-width="2"/>
<path d="M840,603 L849,611" stroke-width="2"/>
<path d="M857,603 L866,611" stroke-width="2"/>
<path d="M874,603 L883,611" stroke-width="2"/>
<path d="M712,591 L719,581" stroke-width="2"/>
<path d="M724,591 L731,581" stroke-width="2"/>
<path d="M736,591 L743,581" stroke-width="2"/>
<path d="M700,593 L708,603" stroke-width="2"/>
<path d="M713,593 L721,603" stroke-width="2"/>
<path d="M726,593 L734,603" stroke-width="2"/>
<path d="M739,593 L747,603" stroke-width="2"/>
<path d="M677.3,559 L677.3,641.3 L700.6,641.3 C703,641 705,639 706,637 C707,635 707.2,633 707.2,630 L707.2,606" stroke-width="3.1"/>
<path d="M676.5,644 L676.5,653 L698.7,653 C703,653 708,649 711,645 C714,640 716,633 716.5,625 L717,619 C718,616 721,613 725,611.3 L745.9,611.3 L745.9,604" stroke-width="3.1"/>
<path d="M685,653 L691,644" stroke-width="2"/>
<path d="M695,653 L701,644" stroke-width="2"/>
<path d="M703,651 L713,638" stroke-width="2"/>
<path d="M708,633 L716,622" stroke-width="2"/>
<path d="M708,621 L716,610" stroke-width="2"/>
<path d="M709,610 L723,598" stroke-width="2"/>
<path d="M891.5,612 L898,606" stroke-width="2"/>
<path d="M896,640 L903,632" stroke-width="2"/>
<path d="M912,652 L918,643" stroke-width="2"/>
<path d="M921,652 L927,643" stroke-width="2"/>
<path d="M637.5,532.3 L637.5,730.4" stroke-width="3.1"/>
<path d="M638.5,722.4 L712.5,722.2" stroke-width="2.4"/>
<path d="M735.7,721.2 L801.3,720.6" stroke-width="2.4"/>
<path d="M640.5,721.2 L655.5,719.4 L660.5,719.9 L662,721.1 L662,723.5 L660.5,724.7 L655.5,725.4 L640.5,723.6Z" fill="#000" stroke-width="0.8"/>
<path d="M799.3,721.8 L785.8,723.7 L781.3,723.2 L779.8,722 L779.8,719.6 L781.3,718.4 L785.8,717.7 L799.3,719.4Z" fill="#000" stroke-width="0.8"/>
<path d="M579.2,676.4 L596.2,676.4 L676,645.5" stroke-width="2.6"/>
<path d="M675.5,647 L662.2,654.1 L657.3,655.3 L655.5,654.7 L654.6,652.5 L655.6,650.8 L660,648.5 L674.6,644.7Z" fill="#000" stroke-width="0.8"/>
<path d="M940,568.8 L934.9,569.9 L900.8,623.5" stroke-width="2.6"/>
<path d="M900.3,622 L905.9,610.4 L908.6,607.2 L910.3,606.4 L912.3,607.7 L912.3,609.5 L910.5,613.4 L902.3,623.3Z" fill="#000" stroke-width="0.8"/>
<text fill="#000" stroke="#000" stroke-width="0.25" transform="translate(218.4,55) scale(1,1.1)" x="0" y="0" textLength="64.2" lengthAdjust="spacing" font-size="14.6" font-weight="bold">APPROX</text>
<text fill="#000" stroke="#000" stroke-width="0.25" transform="translate(304,55) scale(1,1.1)" x="0" y="0" textLength="73.4" lengthAdjust="spacing" font-size="14.6" font-weight="bold">MARKING</text>
<text fill="#000" stroke="#000" stroke-width="0.25" transform="translate(393,55) scale(1,1.1)" x="0" y="0" textLength="42.8" lengthAdjust="spacing" font-size="14.6" font-weight="bold">AREA</text>
<path d="M224.5,31 V46 M217.5,38.5 H231.5 M219.5,33.5 L229.5,43.5 M229.5,33.5 L219.5,43.5" stroke-width="2.2"/>
<circle cx="224.5" cy="39" r="3.2" fill="#000" stroke="none"/>
<text fill="#000" stroke="#000" stroke-width="0.25" transform="translate(502.5,155) scale(1,1.1)" x="0" y="0" textLength="8.1" lengthAdjust="spacing" font-size="14.6" font-weight="bold">E</text>
<text fill="#000" stroke="#000" stroke-width="0.25" transform="translate(525.4,155) scale(1,1.1)" x="0" y="0" textLength="24.2" lengthAdjust="spacing" font-size="14.6" font-weight="bold">DIA</text>
<text fill="#000" stroke="#000" stroke-width="0.25" transform="translate(560.4,155) scale(1,1.1)" x="0" y="0" textLength="29.6" lengthAdjust="spacing" font-size="14.6" font-weight="bold">HUB</text>
<text fill="#000" stroke="#000" stroke-width="0.25" transform="translate(600.8,155) scale(1,1.1)" x="0" y="0" textLength="39" lengthAdjust="spacing" font-size="14.6" font-weight="bold">BORE</text>
<text fill="#000" stroke="#000" stroke-width="0.25" transform="translate(515,606.2) scale(1,1.1)" x="0" y="0" textLength="8" lengthAdjust="spacing" font-size="14.6" font-weight="bold">D</text>
<text fill="#000" stroke="#000" stroke-width="0.25" transform="translate(532,606.2) scale(1,1.1)" x="0" y="0" textLength="26.3" lengthAdjust="spacing" font-size="14.6" font-weight="bold">DIA</text>
<text fill="#000" stroke="#000" stroke-width="0.25" transform="translate(516,621.7) scale(1,1.1)" x="0" y="0" textLength="38.4" lengthAdjust="spacing" font-size="14.6" font-weight="bold">BOLT</text>
<text fill="#000" stroke="#000" stroke-width="0.25" transform="translate(566,621.7) scale(1,1.1)" x="0" y="0" textLength="52.8" lengthAdjust="spacing" font-size="14.6" font-weight="bold">CIRCLE</text>
<text fill="#000" stroke="#000" stroke-width="0.25" transform="translate(79.6,704.6) scale(1,1.1)" x="0" y="0" textLength="8.3" lengthAdjust="spacing" font-size="14.6" font-weight="bold">F</text>
<text fill="#000" stroke="#000" stroke-width="0.25" transform="translate(101,704.6) scale(1,1.1)" x="0" y="0" textLength="38.2" lengthAdjust="spacing" font-size="14.6" font-weight="bold">BOLT</text>
<text fill="#000" stroke="#000" stroke-width="0.25" transform="translate(152.4,704.6) scale(1,1.1)" x="0" y="0" textLength="49.6" lengthAdjust="spacing" font-size="14.6" font-weight="bold">HOLES</text>
<text fill="#000" stroke="#000" stroke-width="0.25" transform="translate(533.8,682.8) scale(1,1.1)" x="0" y="0" textLength="40.2" lengthAdjust="spacing" font-size="14.6" font-weight="bold">RING</text>
<text fill="#000" stroke="#000" stroke-width="0.25" transform="translate(721,727.2) scale(1,1.1)" x="0" y="0" textLength="9.5" lengthAdjust="spacing" font-size="14.6" font-weight="bold">C</text>
<path d="M805.5,732.5 C803,730.8 799.2,731.5 799,736.5 C799,740.5 802,742 805.5,740.8" stroke-width="2.6"/>
<path d="M802.8,737 L802.8,745.8 L810,745.8" stroke-width="2.4"/>
<text fill="#000" stroke="#000" stroke-width="0.25" transform="translate(818.3,746.8) scale(1,1.1)" x="0" y="0" textLength="19.6" lengthAdjust="spacing" font-size="14.6" font-weight="bold">OF</text>
<text fill="#000" stroke="#000" stroke-width="0.25" transform="translate(850.2,746.8) scale(1,1.1)" x="0" y="0" textLength="40.8" lengthAdjust="spacing" font-size="14.6" font-weight="bold">TIRE</text>
<text fill="#000" stroke="#000" stroke-width="0.25" transform="translate(905.6,746.8) scale(1,1.1)" x="0" y="0" textLength="31.2" lengthAdjust="spacing" font-size="14.6" font-weight="bold">REF</text>
<text fill="#000" stroke="#000" stroke-width="0.25" transform="translate(820,334.7) scale(1,1.1)" x="0" y="0" textLength="8.8" lengthAdjust="spacing" font-size="14.6" font-weight="bold">A</text>
<text fill="#000" stroke="#000" stroke-width="0.25" transform="translate(840.6,334.7) scale(1,1.1)" x="0" y="0" textLength="25.1" lengthAdjust="spacing" font-size="14.6" font-weight="bold">DIA</text>
<text fill="#000" stroke="#000" stroke-width="0.25" transform="translate(798,66) scale(1,1.1)" x="0" y="0" textLength="10" lengthAdjust="spacing" font-size="14.6" font-weight="bold">B</text>
<text fill="#000" stroke="#000" stroke-width="0.25" x="942.6" y="575.4" textLength="63.1" lengthAdjust="spacingAndGlyphs" font-size="15.9" font-weight="bold">OPTIONAL</text>
<text fill="#000" stroke="#000" stroke-width="0.25" x="939.3" y="588.7" textLength="61.9" lengthAdjust="spacingAndGlyphs" font-size="15.9" font-weight="bold">MARKING</text>
<text fill="#000" stroke="#000" stroke-width="0.25" x="942.6" y="604.2" textLength="38.7" lengthAdjust="spacingAndGlyphs" font-size="15.9" font-weight="bold">AREA</text>
<path d="M946.7,552 V562 M941.5,557 H952 M943,553.5 L950.5,560.5 M950.5,553.5 L943,560.5" stroke-width="2"/>
<circle cx="946.7" cy="557" r="3.6" fill="#000" stroke="none"/>
<text fill="#000" stroke="#000" stroke-width="0.25" x="871.7" y="17" textLength="115.3" lengthAdjust="spacing" font-size="11" font-weight="bold">FED. SUP CLASS</text>
<text fill="#000" stroke="#000" stroke-width="0.25" x="904.6" y="38.6" textLength="42.4" lengthAdjust="spacing" font-size="16.5" font-weight="bold">2530</text>
<g transform="translate(1025.8,846) rotate(-90)">
<text fill="#000" stroke="#000" stroke-width="0.25" x="0.3" y="-0.5" textLength="18.4" lengthAdjust="spacingAndGlyphs" font-size="15.9" font-weight="bold">EB</text>
<text fill="#000" stroke="#000" stroke-width="0.25" x="30.4" y="-0.5" textLength="33" lengthAdjust="spacingAndGlyphs" font-size="15.9" font-weight="bold">1977</text>
<text fill="#000" stroke="#000" stroke-width="0.25" x="122" y="0.5" textLength="12.3" lengthAdjust="spacingAndGlyphs" font-size="15.9" font-weight="bold">14</text>
<text fill="#000" stroke="#000" stroke-width="0.25" x="142.3" y="0.5" textLength="19.7" lengthAdjust="spacingAndGlyphs" font-size="15.9" font-weight="bold">OCT</text>
<text fill="#000" stroke="#000" stroke-width="0.25" x="173.1" y="0.5" textLength="12.9" lengthAdjust="spacingAndGlyphs" font-size="15.9" font-weight="bold">82</text>
</g>
<circle cx="1020.4" cy="752.4" r="10.2" stroke-width="2.6"/>
<path d="M1017,751.2 A4.3,4.3 0 1 0 1025.4,751.2" stroke-width="2.4"/>
</g>
</svg>
</body></html>
